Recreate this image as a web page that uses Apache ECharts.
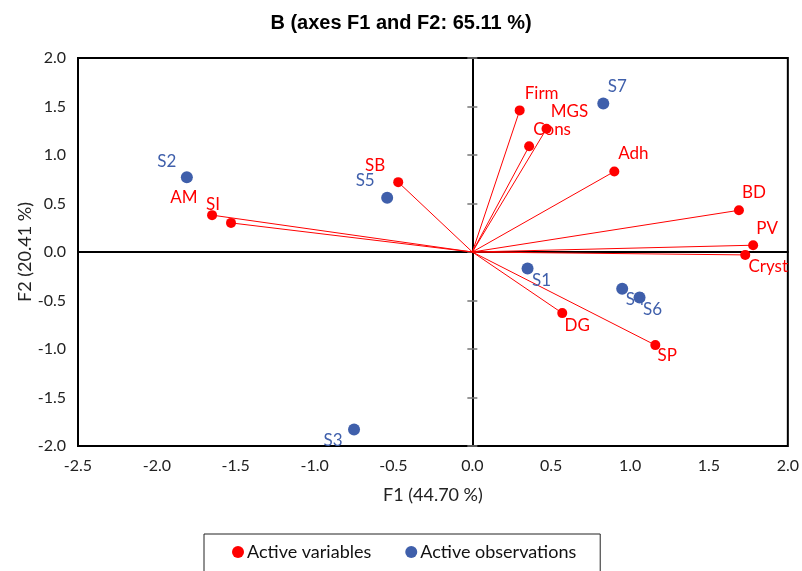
<!DOCTYPE html>
<html>
<head>
<meta charset="utf-8">
<script src="https://cdn.jsdelivr.net/npm/echarts@6/dist/echarts.min.js"></script>
<style>
  html, body { margin: 0; padding: 0; background: #fff; }
  #chart { width: 802px; height: 571px; }
</style>
</head>
<body>
<div id="chart"></div>
<script>
// active variables (loadings, scaled)
const varNames = ['SI', 'AM', 'SB', 'Firm', 'MGS', 'Cons', 'Adh', 'BD', 'PV', 'Cryst', 'DG', 'SP']
const varF1 = [-1.65, -1.53, -0.47, 0.30, 0.47, 0.36, 0.90, 1.69, 1.78, 1.73, 0.57, 1.16]
const varF2 = [0.38, 0.30, 0.72, 1.46, 1.27, 1.09, 0.83, 0.43, 0.07, -0.03, -0.63, -0.96]

// active observations
const obsNames = ['S1', 'S2', 'S3', 'S4', 'S5', 'S6', 'S7']
const obsF1 = [0.35, -1.81, -0.75, 0.95, -0.54, 1.06, 0.83]
const obsF2 = [-0.17, 0.77, -1.83, -0.38, 0.56, -0.47, 1.53]

const xTicks = [-2.5, 2.0]
const yTicks = [-2.0, 2.0]

// label offsets in px (dx, dy from the dot centre)
const varLabelOffset = {
  SI: [1, -11], AM: [-47, -25], SB: [-23, -17], Firm: [22, -17], MGS: [23, -17],
  Cons: [23, -17], Adh: [19, -18], BD: [15, -18], PV: [14, -17], Cryst: [23, 12],
  DG: [15, 12], SP: [12, 10]
}
const obsLabelOffset = {
  S1: [14, 12], S2: [-20, -16], S3: [-21, 11], S4: [13, 11], S5: [-22, -17],
  S6: [13, 12], S7: [14, -17]
}

const RED = '#ff0000'
const BLUE = '#3f5fab'
const labelFont = 'Lato, "Open Sans", sans-serif'

const chart = echarts.init(document.getElementById('chart'))

const varData = varNames.map((n, i) => ({
  name: n,
  value: [varF1[i], varF2[i]],
  label: { offset: varLabelOffset[n] }
}))
const obsData = obsNames.map((n, i) => ({
  name: n,
  value: [obsF1[i], obsF2[i]],
  label: { offset: obsLabelOffset[n] }
}))
const vectors = varNames.map((n, i) => ({ coords: [[0, 0], [varF1[i], varF2[i]]] }))

const axisLabelStyle = {
  color: '#222',
  fontSize: 16,
  fontFamily: labelFont,
  formatter: v => v.toFixed(1)
}

const option = {
  animation: false,
  title: {
    text: 'B (axes F1 and F2: 65.11 %)',
    left: 'center',
    top: 8,
    textStyle: {
      fontFamily: '"Liberation Sans Narrow", "Liberation Sans", sans-serif',
      fontSize: 20,
      fontWeight: 'bold',
      color: '#000'
    }
  },
  legend: {
    left: 204,
    top: 534,
    padding: [9, 24, 40, 28],
    borderColor: '#222',
    borderWidth: 1,
    itemGap: 34,
    itemWidth: 12,
    itemHeight: 12,
    textStyle: { fontFamily: labelFont, fontSize: 18, color: '#111', padding: [0, 0, 0, -2] },
    data: [
      { name: 'Active variables', icon: 'circle', itemStyle: { color: RED } },
      { name: 'Active observations', icon: 'circle', itemStyle: { color: BLUE } }
    ]
  },
  grid: {
    left: 78,
    right: 11,
    top: 58,
    bottom: 125,
    show: true,
    borderColor: '#000',
    borderWidth: 2
  },
  xAxis: [
    {
      type: 'value',
      min: xTicks[0],
      max: xTicks[1],
      interval: 0.5,
      position: 'bottom',
      axisLine: { show: false, onZero: false },
      axisTick: { show: false },
      splitLine: { show: false },
      axisLabel: Object.assign({ margin: 12 }, axisLabelStyle),
      name: 'F1 (44.70 %)',
      nameLocation: 'middle',
      nameGap: 40,
      nameTextStyle: { fontFamily: labelFont, fontSize: 18, color: '#222' }
    },
    {
      // horizontal line through y = 0
      type: 'value',
      min: xTicks[0],
      max: xTicks[1],
      interval: 0.5,
      axisLine: { show: true, onZero: true, lineStyle: { color: '#000', width: 2 } },
      axisTick: { show: false },
      axisLabel: { show: false },
      splitLine: { show: false }
    }
  ],
  yAxis: [
    {
      type: 'value',
      min: yTicks[0],
      max: yTicks[1],
      interval: 0.5,
      position: 'left',
      axisLine: { show: false, onZero: false },
      axisTick: { show: false },
      splitLine: { show: false },
      axisLabel: Object.assign({ margin: 12 }, axisLabelStyle),
      name: 'F2 (20.41 %)',
      nameLocation: 'middle',
      nameGap: 44,
      nameMoveOverlap: false,
      nameRotate: 90,
      nameTextStyle: { fontFamily: labelFont, fontSize: 18, color: '#222' }
    },
    {
      // vertical line through x = 0, ticks outside
      type: 'value',
      min: yTicks[0],
      max: yTicks[1],
      interval: 0.5,
      axisLine: { show: true, onZero: true, lineStyle: { color: '#000', width: 2 } },
      axisTick: { show: true, inside: false, length: 5, lineStyle: { color: '#777', width: 1.5 } },
      axisLabel: { show: false },
      splitLine: { show: false }
    },
    {
      // ticks inside
      type: 'value',
      min: yTicks[0],
      max: yTicks[1],
      interval: 0.5,
      axisLine: { show: false, onZero: true },
      axisTick: { show: true, inside: true, length: 5, lineStyle: { color: '#777', width: 1.5 } },
      axisLabel: { show: false },
      splitLine: { show: false }
    }
  ],
  series: [
    {
      type: 'lines',
      coordinateSystem: 'cartesian2d',
      silent: true,
      lineStyle: { color: RED, width: 1, opacity: 1 },
      data: vectors,
      z: 3
    },
    {
      name: 'Active variables',
      type: 'scatter',
      symbolSize: 10,
      itemStyle: { color: RED, opacity: 1 },
      label: {
        show: true,
        position: 'inside',
        formatter: '{b}',
        color: RED,
        fontSize: 17,
        fontFamily: labelFont
      },
      data: varData,
      z: 4
    },
    {
      name: 'Active observations',
      type: 'scatter',
      symbolSize: 12,
      itemStyle: { color: BLUE, opacity: 1 },
      label: {
        show: true,
        position: 'inside',
        formatter: '{b}',
        color: BLUE,
        fontSize: 17,
        fontFamily: labelFont
      },
      data: obsData,
      z: 4
    }
  ]
}

chart.setOption(option)
</script>
</body>
</html>
